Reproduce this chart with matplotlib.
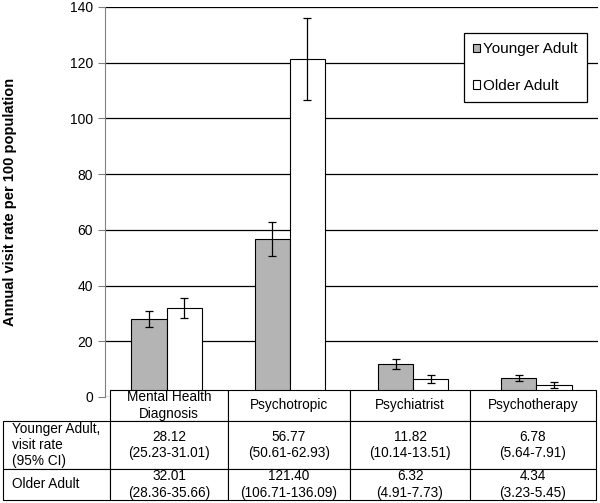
import matplotlib
matplotlib.use('Agg')
import matplotlib.pyplot as plt
import numpy as np

plt.rcParams['font.family'] = ['Liberation Sans', 'DejaVu Sans']

categories = ['Mental Health\nDiagnosis', 'Psychotropic', 'Psychiatrist', 'Psychotherapy']
younger = [28.12, 56.77, 11.82, 6.78]
younger_lo = [25.23, 50.61, 10.14, 5.64]
younger_hi = [31.01, 62.93, 13.51, 7.91]
older = [32.01, 121.40, 6.32, 4.34]
older_lo = [28.36, 106.71, 4.91, 3.23]
older_hi = [35.66, 136.09, 7.73, 5.45]
row_labels = ['Younger Adult,\nvisit rate\n(95% CI)', 'Older Adult']

fig = plt.figure(figsize=(6, 5.03), dpi=100)
ax = fig.add_axes([105 / 600, 1 - 397 / 503, 493 / 600, 390 / 503])

x = np.arange(len(categories))
w = 0.285
y_err = [np.array(younger) - np.array(younger_lo), np.array(younger_hi) - np.array(younger)]
o_err = [np.array(older) - np.array(older_lo), np.array(older_hi) - np.array(older)]

ax.bar(x - w / 2, younger, w, color='#b4b4b4', edgecolor='black', linewidth=0.8,
       yerr=y_err, capsize=3, error_kw=dict(elinewidth=0.9, capthick=0.9), label='Younger Adult', zorder=3)
ax.bar(x + w / 2, older, w, color='white', edgecolor='black', linewidth=0.8,
       yerr=o_err, capsize=3, error_kw=dict(elinewidth=0.9, capthick=0.9), label='Older Adult', zorder=3)

ax.set_xlim(-0.5, 3.5)
ax.set_ylim(0, 140)
ax.set_yticks(range(0, 141, 20))
ax.tick_params(axis='y', labelsize=10, length=5, color='#808080')
ax.set_xticks([])
ax.yaxis.grid(True, color='black', linewidth=0.9)
ax.set_axisbelow(True)
for s in ['top', 'right', 'bottom']:
    ax.spines[s].set_visible(False)
ax.spines['left'].set_color('#808080')

ax.set_ylabel('Annual visit rate per 100 population', fontsize=10.5, fontweight='bold')
ax.yaxis.set_label_coords(-0.178, 0.5)

leg = ax.legend(loc='upper right', bbox_to_anchor=(0.978, 0.933), fontsize=11,
                frameon=True, fancybox=False, labelspacing=1.5, handlelength=0.5,
                handleheight=0.5, handletextpad=0.2, borderpad=0.6, borderaxespad=0)
leg.get_frame().set_edgecolor('black')
leg.get_frame().set_linewidth(0.9)
leg.get_frame().set_alpha(1)

# first column holds the row labels, header corner left blank
cell_text = [[row_labels[0]] + ['%.2f\n(%.2f-%.2f)' % (v, lo, hi) for v, lo, hi in zip(younger, younger_lo, younger_hi)],
             [row_labels[1]] + ['%.2f\n(%.2f-%.2f)' % (v, lo, hi) for v, lo, hi in zip(older, older_lo, older_hi)]]

tab = ax.table(cellText=cell_text, colLabels=[''] + categories, cellLoc='center',
               bbox=[(3 - 105) / 493, (397 - 500) / 390, (596 - 3) / 493, (500 - 390) / 390])
tab.auto_set_font_size(False)
tab.set_fontsize(9.8)
col_w = [107, 118, 122, 120, 126]
row_h = [31, 48, 31]
for (r, c), cell in tab.get_celld().items():
    cell.set_width(col_w[c] / 493)
    cell.set_height(row_h[r] / 390)
    cell.set_linewidth(0.8)
    cell.set_facecolor('white')
    if c == 0:
        cell._loc = 'left'
        cell.PAD = 0.08
        cell.get_text().set_ha('left')
    if r == 0 and c == 0:
        cell.visible_edges = ''
        cell.set_facecolor('none')
tab.set_zorder(5)

fig.savefig('out.png', dpi=100)
